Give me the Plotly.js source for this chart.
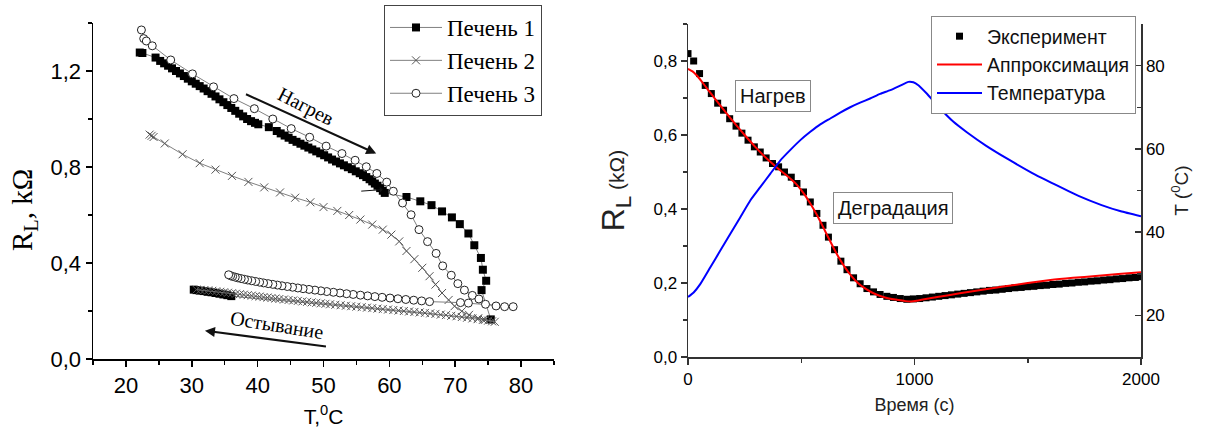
<!DOCTYPE html>
<html><head><meta charset="utf-8">
<script src="https://cdn.plot.ly/plotly-3.0.1.min.js"></script>
<style>html,body{margin:0;padding:0;background:#fff}#chart{width:1206px;height:430px}</style>
</head><body><div id="chart"></div>
<script>
// ---------- Left chart: R_L vs temperature ----------
const liver1T = [22.1,22.5,24.5,25.2,25.8,26.4,27.0,27.6,28.2,28.8,29.4,30.0,30.6,31.2,31.8,32.4,33.0,33.6,34.2,34.8,35.4,36.0,36.6,37.2,37.8,38.4,39.0,39.6,40.1,
  41.7,42.9,43.5,44.1,44.7,45.3,45.9,46.5,47.1,47.7,48.3,48.9,49.5,50.1,50.7,51.3,51.9,52.5,53.1,53.7,54.3,54.9,55.5,56.0,56.5,57.0,57.4,57.8,58.2,58.6,59.0,59.3,
  62.6,64.7,66.4,68.0,69.5,70.7,72.0,72.9,73.9,74.2,74.7,74.0,
  75.4,36.0,35.4,34.8,34.2,33.6,33.0,32.4,31.8,31.2,30.7,30.3];
const liver1R = [1.277,1.275,1.256,1.242,1.232,1.222,1.211,1.200,1.190,1.179,1.168,1.157,1.147,1.137,1.127,1.116,1.105,1.094,1.082,1.070,1.058,1.046,1.034,1.022,1.011,1.000,0.991,0.984,0.978,
  0.966,0.950,0.940,0.931,0.922,0.913,0.905,0.897,0.889,0.881,0.873,0.865,0.857,0.849,0.840,0.831,0.823,0.815,0.807,0.799,0.791,0.782,0.774,0.766,0.758,0.749,0.740,0.731,0.722,0.712,0.701,0.692,
  0.675,0.657,0.641,0.615,0.590,0.562,0.523,0.474,0.421,0.372,0.326,0.287,
  0.165,0.262,0.266,0.269,0.272,0.275,0.278,0.280,0.283,0.285,0.287,0.289];

const liver2T = [23.6,23.9,24.2,25.9,28.6,31.2,33.6,36.1,38.6,41.0,43.4,45.7,48.0,50.0,52.1,53.9,55.6,57.4,59.0,60.3,61.5,62.6,63.8,65.0,66.1,67.0,68.0,69.0,69.9,71.0,72.1,73.5,74.5,75.6,76.0,
  75.0,74.2,73.4,72.6,71.8,71.0,70.2,69.4,68.6,67.8,67.0,66.2,65.4,64.6,63.8,63.0,62.2,61.4,60.6,59.8,59.0,58.2,57.4,56.6,55.8,55.0,54.2,53.4,52.6,51.8,51.0,
  50.3,49.6,48.9,48.2,47.5,46.8,46.1,45.4,44.7,44.0,43.3,42.7,42.1,41.5,40.9,40.3,39.7,39.1,38.5,37.9,37.3,36.7,36.1,35.5,34.9,34.3,33.7,33.1,32.5,31.9,31.3,30.7];
const liver2R = [0.935,0.930,0.925,0.898,0.853,0.816,0.789,0.763,0.738,0.715,0.694,0.672,0.653,0.633,0.617,0.600,0.581,0.560,0.539,0.518,0.490,0.450,0.416,0.380,0.345,0.310,0.275,0.246,0.220,0.199,0.184,0.170,0.163,0.157,0.155,
  0.160,0.163,0.166,0.169,0.172,0.175,0.178,0.180,0.183,0.185,0.188,0.190,0.192,0.194,0.196,0.198,0.200,0.202,0.204,0.206,0.208,0.210,0.212,0.214,0.216,0.218,0.220,0.222,0.224,0.226,0.228,
  0.230,0.232,0.234,0.236,0.238,0.240,0.242,0.244,0.246,0.248,0.250,0.252,0.254,0.256,0.258,0.260,0.262,0.264,0.266,0.268,0.270,0.272,0.274,0.276,0.278,0.280,0.282,0.284,0.286,0.287,0.288,0.289];

const liver3T = [22.35,22.7,23.1,24.0,26.8,30.1,33.3,36.4,39.5,42.3,45.1,47.9,50.4,52.8,54.8,56.5,58.1,59.6,60.6,62.0,63.3,64.5,65.8,67.1,68.1,69.4,70.4,71.4,72.6,73.6,74.6,76.2,77.5,78.8,
  72.0,70.8,66.1,64.9,63.7,62.5,61.3,60.1,58.9,57.8,56.7,55.6,54.5,53.5,52.5,51.5,50.5,49.6,48.7,47.8,46.9,46.1,45.3,44.5,43.7,43.0,42.3,41.6,40.9,40.3,39.7,39.1,38.5,38.0,37.5,37.0,36.6,36.2,35.9,35.6];
const liver3R = [1.371,1.335,1.325,1.305,1.246,1.188,1.134,1.085,1.043,1.000,0.960,0.924,0.887,0.856,0.828,0.801,0.773,0.737,0.699,0.650,0.601,0.539,0.489,0.440,0.388,0.349,0.314,0.287,0.265,0.250,0.228,0.221,0.218,0.218,
  0.233,0.235,0.239,0.242,0.245,0.248,0.251,0.254,0.257,0.260,0.263,0.266,0.269,0.272,0.275,0.278,0.281,0.284,0.287,0.290,0.293,0.296,0.299,0.302,0.305,0.308,0.311,0.314,0.317,0.320,0.323,0.326,0.329,0.332,0.335,0.338,0.341,0.344,0.347,0.351];

const leftSeriesNames = ['Печень 1','Печень 2','Печень 3'];
const leftXTicks = [20,30,40,50,60,70,80];
const leftXTickText = ['20','30','40','50','60','70','80'];
const leftYTicks = [0,0.4,0.8,1.2];
const leftYTickText = ['0,0','0,4','0,8','1,2'];

// ---------- Right chart: R_L and temperature vs time ----------
const expTime = [0,25,51,76,103,131,157,184,212,238,265,293,319,345,373,400,426,456,481,510,540,569,596,620,647,675,702,731,760,790,819,848,878,907,937,966,995,
  1023,1051,1079,1107,1135,1163,1191,1219,1247,1275,1303,1331,1359,1387,1415,1443,1471,1499,1527,1555,1583,1611,1639,1667,1695,1723,1751,1779,1807,1835,1863,1891,1919,1947,1975,2000];
const expR = [0.820,0.800,0.766,0.734,0.712,0.686,0.667,0.644,0.624,0.605,0.586,0.568,0.554,0.538,0.523,0.514,0.500,0.486,0.469,0.446,0.419,0.388,0.356,0.324,0.290,0.259,0.236,0.214,0.198,0.185,0.176,0.169,0.164,0.161,0.158,0.156,0.157,
  0.158,0.160,0.162,0.164,0.166,0.168,0.170,0.172,0.174,0.176,0.178,0.180,0.181,0.183,0.185,0.187,0.188,0.190,0.191,0.193,0.194,0.196,0.197,0.199,0.200,0.202,0.203,0.205,0.206,0.208,0.209,0.211,0.212,0.214,0.215,0.217];

const fitTime = [0,20,40,60,80,100,150,200,250,300,350,400,450,480,510,540,570,600,630,660,690,720,750,780,810,840,870,900,930,960,985,1010,1050,1100,1200,1300,1400,1500,1600,1700,1800,1900,2000];
const fitR = [0.779,0.772,0.760,0.745,0.729,0.713,0.674,0.636,0.600,0.566,0.535,0.508,0.483,0.466,0.443,0.415,0.383,0.347,0.310,0.275,0.245,0.220,0.200,0.186,0.175,0.167,0.161,0.157,0.154,0.151,0.150,0.152,0.157,0.162,0.172,0.182,0.191,0.200,0.208,0.214,0.219,0.224,0.229];

const tempTime = [0,25,54,98,142,187,231,275,319,363,407,451,496,540,584,628,672,716,760,804,848,893,937,973,995,1017,1054,1113,1172,1231,1315,1417,1520,1622,1724,1826,1911,2000];
const tempC = [24.4,25.5,27.5,31.5,35.5,39.6,43.6,47.6,50.8,54.0,57.2,59.7,62.1,64.1,65.9,67.3,68.7,70.0,71.1,72.1,73.2,74.1,75.2,76.1,76.0,75.3,73.3,69.7,66.5,64.0,60.8,57.4,54.2,51.4,48.7,46.5,45.0,43.8];

const rightSeriesNames = ['Эксперимент','Аппроксимация','Температура'];
const rightXTicks = [0,1000,2000];
const rightXTickText = ['0','1000','2000'];
const rightYTicks = [0,0.2,0.4,0.6,0.8];
const rightYTickText = ['0,0','0,2','0,4','0,6','0,8'];
const rightY2Ticks = [20,40,60,80];
const rightY2TickText = ['20','40','60','80'];

// ---------- drawing ----------
const W = 1206, H = 430;
const SERIF = 'Liberation Serif, Times New Roman, serif';
const SANS = 'Liberation Sans, Arial, sans-serif';
const lineGray = '#808080';

const traces = [
  {x: liver1T, y: liver1R, name: leftSeriesNames[0], mode: 'lines+markers', xaxis: 'x', yaxis: 'y', legend: 'legend',
   line: {color: lineGray, width: 1}, marker: {symbol: 'square', size: 8, color: '#000'}},
  {x: liver2T, y: liver2R, name: leftSeriesNames[1], mode: 'lines+markers', xaxis: 'x', yaxis: 'y', legend: 'legend',
   line: {color: lineGray, width: 1}, marker: {symbol: 'x-thin', size: 8, color: '#555', line: {width: 1, color: '#555'}}},
  {x: liver3T, y: liver3R, name: leftSeriesNames[2], mode: 'lines+markers', xaxis: 'x', yaxis: 'y', legend: 'legend',
   line: {color: lineGray, width: 1}, marker: {symbol: 'circle', size: 8, color: '#fff', line: {width: 1, color: '#222'}}},
  {x: expTime, y: expR, name: rightSeriesNames[0], mode: 'markers', xaxis: 'x2', yaxis: 'y2', legend: 'legend2',
   marker: {symbol: 'square', size: 7, color: '#000'}},
  {x: fitTime, y: fitR, name: rightSeriesNames[1], mode: 'lines', xaxis: 'x2', yaxis: 'y2', legend: 'legend2',
   line: {color: '#ff0000', width: 2, shape: 'spline', smoothing: 0.6}},
  {x: tempTime, y: tempC, name: rightSeriesNames[2], mode: 'lines', xaxis: 'x2', yaxis: 'y3', legend: 'legend2',
   line: {color: '#0000ff', width: 2, shape: 'spline', smoothing: 0.4}}
];

function axisBase(color, fontSize) {
  return {showline: true, linecolor: color, linewidth: 1.5, showgrid: false, zeroline: false,
          ticks: 'outside', ticklen: 6, tickwidth: 1.5, tickcolor: color, tickmode: 'array',
          tickfont: {size: fontSize, color: '#000', family: SANS}, fixedrange: true};
}

const layout = {
  width: W, height: H, margin: {l: 0, r: 0, t: 0, b: 0},
  paper_bgcolor: '#fff', plot_bgcolor: 'rgba(0,0,0,0)',
  font: {family: SANS, color: '#000'},
  showlegend: true,
  xaxis: Object.assign(axisBase('#000', 22), {
    domain: [93 / W, 554 / W], range: [15, 85], anchor: 'y',
    tickvals: leftXTicks, ticktext: leftXTickText,
    minor: {tickvals: [15, 25, 35, 45, 55, 65, 75, 85], ticks: 'outside', ticklen: 4, tickwidth: 1.5, tickcolor: '#000'},
    title: {text: 'T,<sup>0</sup>C', font: {size: 21, family: SANS, color: '#000'}, standoff: 12}
  }),
  yaxis: Object.assign(axisBase('#000', 22), {
    domain: [(H - 359) / H, (H - 23) / H], range: [0, 1.4], anchor: 'x',
    tickvals: leftYTicks, ticktext: leftYTickText,
    minor: {tickvals: [0.2, 0.6, 1.0, 1.4], ticks: 'outside', ticklen: 4, tickwidth: 1.5, tickcolor: '#000'}
  }),
  xaxis2: Object.assign(axisBase('#333', 17), {
    domain: [688 / W, 1141 / W], range: [0, 2000], anchor: 'y2',
    tickvals: rightXTicks, ticktext: rightXTickText,
    minor: {tickvals: [500, 1500], ticks: 'outside', ticklen: 4, tickwidth: 1.5, tickcolor: '#333'},
    title: {text: 'Время (с)', font: {size: 18, family: SANS, color: '#222'}, standoff: 10}
  }),
  yaxis2: Object.assign(axisBase('#333', 17), {
    domain: [(H - 357) / H, (H - 24) / H], range: [0, 0.9], anchor: 'x2',
    tickvals: rightYTicks, ticktext: rightYTickText,
    minor: {tickvals: [0.1, 0.3, 0.5, 0.7, 0.9], ticks: 'outside', ticklen: 4, tickwidth: 1.5, tickcolor: '#333'},
    title: {text: 'R<sub>L</sub><span style="font-size:21px"> (kΩ)</span>', font: {size: 32, family: SANS, color: '#222'}, standoff: 19}
  }),
  yaxis3: Object.assign(axisBase('#333', 17), {
    overlaying: 'y2', side: 'right', anchor: 'x2', range: [10, 90], ticks: 'inside',
    tickvals: rightY2Ticks, ticktext: rightY2TickText,
    minor: {tickvals: [30, 50, 70, 90], ticks: 'inside', ticklen: 4, tickwidth: 1.5, tickcolor: '#333'},
    title: {text: 'T (<sup>0</sup>C)', font: {size: 19, family: SANS, color: '#222'}, standoff: 11}
  }),
  legend: {x: 384 / W, y: 1 - 5 / H, xanchor: 'left', yanchor: 'top', bgcolor: '#fff', bordercolor: '#444', borderwidth: 1,
           font: {family: SERIF, size: 23, color: '#000'}, tracegroupgap: 0, itemwidth: 52},
  legend2: {x: 931 / W, y: 1 - 16 / H, xanchor: 'left', yanchor: 'top', bgcolor: '#fff', bordercolor: '#888', borderwidth: 1,
            font: {family: SANS, size: 19.5, color: '#111'}, tracegroupgap: 0, itemwidth: 45},
  annotations: [
    {xref: 'paper', yref: 'paper', x: 24 / W, y: 1 - 210 / H, xanchor: 'center', yanchor: 'middle',
     text: 'R<sub>L</sub>, kΩ', showarrow: false, textangle: -90,
     font: {family: SERIF, size: 29, color: '#000'}},
    {xref: 'x', yref: 'y', x: 47.3, y: 1.053, text: 'Нагрев', showarrow: false, textangle: 27,
     font: {family: SERIF, size: 20, color: '#000'}},
    {xref: 'x', yref: 'y', axref: 'x', ayref: 'y', x: 58.0, y: 0.856, ax: 38.0, ay: 1.106, text: '',
     showarrow: true, arrowhead: 2, arrowsize: 1, arrowwidth: 2, arrowcolor: '#111'},
    {xref: 'x', yref: 'y', x: 43.0, y: 0.142, text: 'Остывание', showarrow: false, textangle: 9,
     font: {family: SERIF, size: 20, color: '#000'}},
    {xref: 'x', yref: 'y', axref: 'x', ayref: 'y', x: 32.0, y: 0.118, ax: 50.6, ay: 0.051, text: '',
     showarrow: true, arrowhead: 2, arrowsize: 1, arrowwidth: 2, arrowcolor: '#111'},
    {xref: 'x', yref: 'y', axref: 'x', ayref: 'y', x: 59.0, y: 0.706, ax: 55.5, ay: 0.699, text: '',
     showarrow: true, arrowhead: 1, arrowsize: 1, arrowwidth: 1, arrowcolor: '#111'},
    {xref: 'x2', yref: 'y2', x: 374, y: 0.706, text: 'Нагрев', showarrow: false,
     bordercolor: '#888', borderwidth: 1, borderpad: 4, bgcolor: '#fff', font: {family: SANS, size: 20, color: '#111'}},
    {xref: 'x2', yref: 'y2', x: 905, y: 0.402, text: 'Деградация', showarrow: false,
     bordercolor: '#888', borderwidth: 1, borderpad: 4, bgcolor: '#fff', font: {family: SANS, size: 20, color: '#111'}}
  ]
};

Plotly.newPlot('chart', traces, layout, {staticPlot: true, displayModeBar: false});
</script>
</body></html>
